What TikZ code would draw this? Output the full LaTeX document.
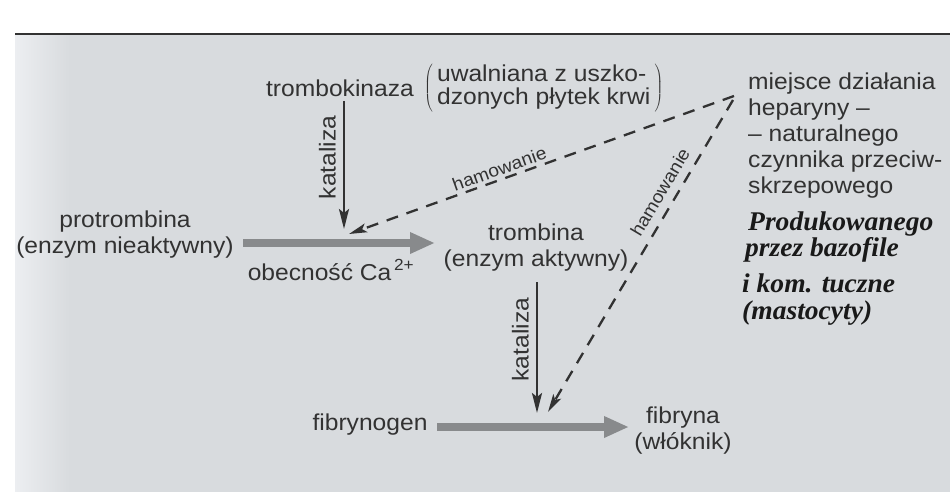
\documentclass[tikz,border=0pt]{standalone}
\usepackage{fontspec}
\setmainfont{Liberation Sans}[FakeStretch=1.07]
\newfontfamily\hand{Liberation Serif}[FakeStretch=1.02]
\usetikzlibrary{arrows.meta}
\definecolor{bg}{RGB}{216,219,222}
\definecolor{bgl}{RGB}{236,238,241}
\definecolor{ink}{RGB}{50,50,50}
\definecolor{pen}{RGB}{25,25,25}
\definecolor{fatgrey}{RGB}{136,138,140}
\begin{document}
\begin{tikzpicture}[x=1pt,y=-1pt,
  txt/.style={font=\fontsize{23}{26}\selectfont, text=ink, inner sep=0pt, align=center},
  small/.style={font=\fontsize{18}{20}\selectfont, text=ink, inner sep=3pt},
  hw/.style={font=\hand\bfseries\itshape\fontsize{27}{30}\selectfont, text=pen, inner sep=0pt, anchor=west},
  thinarrow/.style={draw=ink, line width=2.4pt, -{Stealth[length=20pt,width=10pt,inset=4pt]}},
  dasharrow/.style={draw=ink, line width=2.3pt, dash pattern=on 12pt off 9pt, -{Stealth[length=18pt,width=9pt,inset=4pt]}},
  fatarrow/.style={draw=fatgrey, line width=7.5pt, -{Triangle[length=25pt,width=20pt]}},
  vlabel/.style={font=\fontsize{23}{26}\selectfont, text=ink, inner sep=7pt, rotate=90, anchor=south}
]
\useasboundingbox (0,0) rectangle (950,492);
\fill[white] (0,0) rectangle (950,492);
\fill[bg] (15,34) rectangle (950,492);
\shade[left color=bgl, right color=bg] (15,34) rectangle (70,492);
\draw[line width=2.5pt, ink] (15,34) -- (950,34);

% nodes
\node[txt] (tk) at (340,88) {trombokinaza};
\node[txt, anchor=west] (uw) at (424,88)
  {$\left(\rule[-18pt]{0pt}{42pt}\,\vcenter{\hbox{\fontsize{23}{24}\selectfont\renewcommand\arraystretch{0.95}\begin{tabular}{@{}l@{}}uwalniana z uszko-\\dzonych płytek krwi\end{tabular}}}\,\right)$};
\node[txt] (pro) at (125,235) {protrombina\\(enzym nieaktywny)};
\node[txt] (ca) at (331,270) {obecność Ca\textsuperscript{\,2+}};
\node[txt] (tr) at (536,248) {trombina\\(enzym aktywny)};
\node[txt] (fg) at (370,425) {fibrynogen};
\node[txt] (fb) at (683,431) {fibryna\\(włóknik)};
\node[txt, anchor=north west, align=left] (hep) at (748,73)
  {miejsce działania\\heparyny –\\– naturalnego\\czynnika przeciw-\\skrzepowego};
\node[hw] (h1) at (748,224) {Produkowanego};
\node[hw] (h2) at (745,250) {przez bazofile};
\node[hw] (h3) at (742,283) {i kom. tuczne};
\node[hw] (h4) at (742,313) {(mastocyty)};

% coordinates
\coordinate (k1s) at (344,101);
\coordinate (k1e) at (344,229);
\coordinate (k2s) at (537,282);
\coordinate (k2e) at (537,413);
\coordinate (hs1) at (734,96);
\coordinate (hs2) at (733,100);
\coordinate (he1) at (349,234);
\coordinate (he2) at (548,412);
\coordinate (f1s) at (243,243);
\coordinate (f1e) at (435,243);
\coordinate (f2s) at (437,427);
\coordinate (f2e) at (629,427);

% connectors
\draw[fatarrow] (f1s) -- (f1e);
\draw[fatarrow] (f2s) -- (f2e);
\draw[thinarrow] (k1s) -- node[vlabel, pos=0.44] (kl1) {kataliza} (k1e);
\draw[thinarrow] (k2s) -- node[vlabel, pos=0.44] (kl2) {kataliza} (k2e);
\draw[dasharrow] (hs1) -- node[small, sloped, above, pos=0.6] (hl1) {hamowanie} (he1);
\draw[dasharrow] (hs2) -- (he2);
\node[small, rotate=59.3] (hl2) at (660,192) {hamowanie};
\end{tikzpicture}
\end{document}
